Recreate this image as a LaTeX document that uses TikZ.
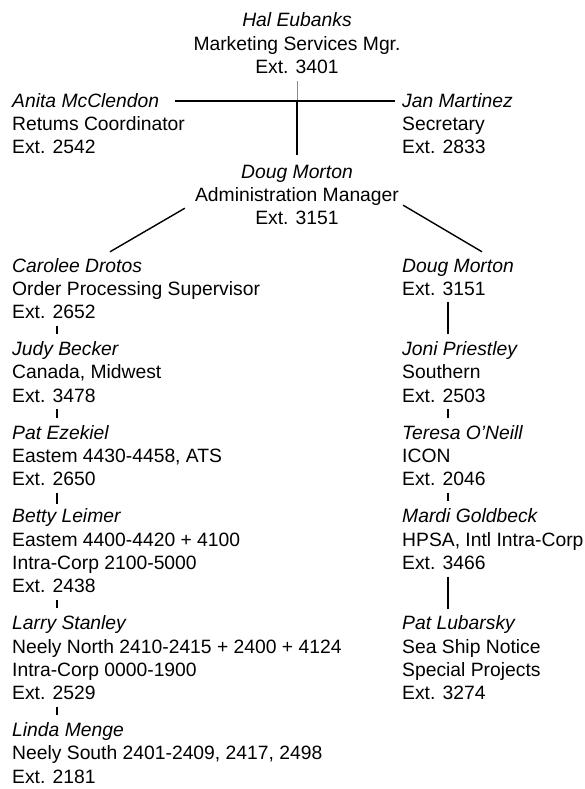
\documentclass[tikz,border=0pt]{standalone}
\usepackage{fontspec}
\setmainfont{Liberation Sans}
\newcommand\blkL[2]{\begin{tabular}[t]{@{}l@{}}\textit{#1}\\#2\end{tabular}}
\newcommand\blkC[2]{\begin{tabular}[t]{@{}c@{}}\textit{#1}\\#2\end{tabular}}
\tikzset{
  person/.style={inner sep=0pt, anchor=base west, font=\fontsize{19.3}{23.3}\selectfont},
  cperson/.style={inner sep=0pt, anchor=base, font=\fontsize{19.3}{23.3}\selectfont},
  link/.style={line width=1.2pt, black},
  faint/.style={line width=0.9pt, black!45},
}
\begin{document}
\begin{tikzpicture}[x=1pt,y=-1pt]
\fill[white] (0,0) rectangle (585,789);
\useasboundingbox (0,0) rectangle (585,789);

% top
\node[cperson] (hal) at (297,27) {\blkC{Hal Eubanks}{Marketing Services Mgr.\\Ext. 3401}};
\node[person] (anita) at (12,107) {\blkL{Anita McClendon}{Retums Coordinator\\Ext. 2542}};
\node[person] (jan) at (402,107) {\blkL{Jan Martinez}{Secretary\\Ext. 2833}};
\node[cperson] (doug) at (297,178) {\blkC{Doug Morton}{Administration Manager\\Ext. 3151}};

% left column
\node[person] (carolee) at (12,272) {\blkL{Carolee Drotos}{Order Processing Supervisor\\Ext. 2652}};
\node[person] (judy) at (12,355.6) {\blkL{Judy Becker}{Canada, Midwest\\Ext. 3478}};
\node[person] (pat) at (12,439.2) {\blkL{Pat Ezekiel}{Eastem 4430-4458, ATS\\Ext. 2650}};
\node[person] (betty) at (12,522.8) {\blkL{Betty Leimer}{Eastem 4400-4420 + 4100\\Intra-Corp 2100-5000\\Ext. 2438}};
\node[person] (larry) at (12,629.7) {\blkL{Larry Stanley}{Neely North 2410-2415 + 2400 + 4124\\Intra-Corp 0000-1900\\Ext. 2529}};
\node[person] (linda) at (12,736.6) {\blkL{Linda Menge}{Neely South 2401-2409, 2417, 2498\\Ext. 2181}};

% right column
\node[person] (dougr) at (402,272) {\blkL{Doug Morton}{Ext. 3151}};
\node[person] (joni) at (402,355.6) {\blkL{Joni Priestley}{Southern\\Ext. 2503}};
\node[person] (teresa) at (402,439.2) {\blkL{Teresa O'Neill}{ICON\\Ext. 2046}};
\node[person] (mardi) at (402,522.8) {\blkL{Mardi Goldbeck}{HPSA, Intl Intra-Corp\\Ext. 3466}};
\node[person] (lubarsky) at (402,629.7) {\blkL{Pat Lubarsky}{Sea Ship Notice\\Special Projects\\Ext. 3274}};

% top connectors
\coordinate (hj) at ([yshift=6pt]hal.south |- anita.base);
\coordinate (hl) at ([xshift=163pt,yshift=6pt]anita.base west);
\coordinate (hr) at ([xshift=-7pt,yshift=6pt]jan.base west);
\draw[faint] (hal.south) -- (hj);
\draw[link, line width=1.5pt] (hl) -- (hr);
\draw[link] (hj) -- ([yshift=6.5pt]doug.north);

% diagonals
\draw[link, line width=1.4pt] ([xshift=-10pt,yshift=23.6pt]doug.south west) -- ([xshift=98pt,yshift=3.7pt]carolee.north west);
\draw[link, line width=1.4pt] ([xshift=4pt,yshift=26.6pt]doug.south east) -- ([xshift=80pt,yshift=3.7pt]dougr.north west);

% left ticks
\draw[link] ([xshift=45pt]carolee.south west) -- ([xshift=45pt,yshift=5pt]judy.north west);
\draw[link] ([xshift=45pt]judy.south west) -- ([xshift=45pt,yshift=5pt]pat.north west);
\draw[link] ([xshift=45pt]pat.south west) -- ([xshift=45pt,yshift=2pt]betty.north west);
\draw[link] ([xshift=45pt]betty.south west) -- ([xshift=45pt,yshift=5pt]larry.north west);
\draw[link] ([xshift=45pt]larry.south west) -- ([xshift=45pt,yshift=5pt]linda.north west);

% right ticks
\draw[link] ([xshift=46pt]dougr.south west) -- ([xshift=46pt,yshift=5pt]joni.north west);
\draw[link] ([xshift=46pt]joni.south west) -- ([xshift=46pt,yshift=5pt]teresa.north west);
\draw[link] ([xshift=46pt]teresa.south west) -- ([xshift=46pt,yshift=5pt]mardi.north west);
\draw[link] ([xshift=46pt]mardi.south west) -- ([xshift=46pt,yshift=4.5pt]lubarsky.north west);
\end{tikzpicture}
\end{document}
